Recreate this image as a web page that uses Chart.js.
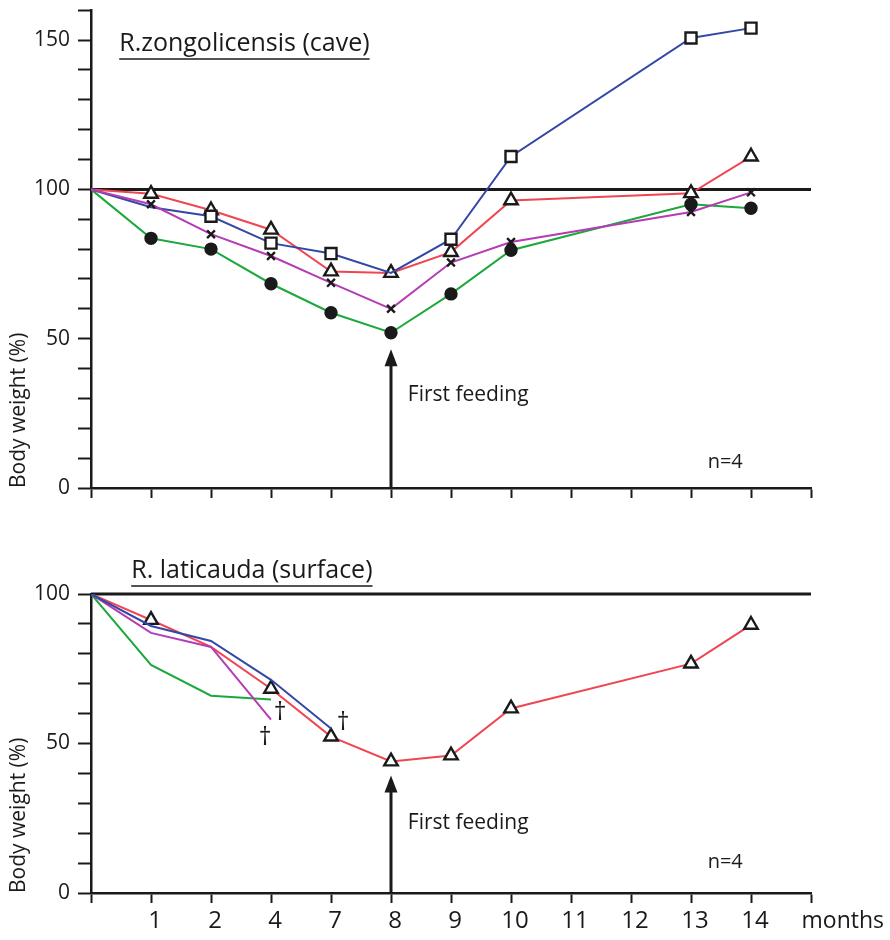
<!DOCTYPE html>
<html><head><meta charset="utf-8">
<script src="https://cdn.jsdelivr.net/npm/chart.js@4/dist/chart.umd.min.js"></script>
<style>
html,body{margin:0;padding:0;background:#fff;}
#top{position:absolute;left:0;top:0;width:890px;height:530px;}
#bot{position:absolute;left:0;top:540px;width:890px;height:400px;}
</style></head><body>
<div id="top"><canvas id="c1"></canvas></div>
<div id="bot"><canvas id="c2"></canvas></div>
<script>
// x-axis categories (months), one per evenly spaced tick position
const monthLabels = ['', '1', '2', '4', '7', '8', '9', '10', '11', '12', '13', '14', ''];

// Top panel: R.zongolicensis (cave), body weight % per month position (null = no value)
const caveBlue    = [100, 94, 91, 82, 78.5, 72, 83.3, 111, null, null, 150.7, 154];
const caveRed     = [100, 98.5, 93, 86.5, 72.5, 72, 79, 96.3, null, null, 98.7, 111];
const caveMagenta = [100, 95, 85, 77.7, 68.7, 60, 75.5, 82.4, null, null, 92.4, 99];
const caveGreen   = [100, 83.6, 80, 68.4, 58.7, 52, 65, 79.6, null, null, 95, 93.7];
// which points carry a visible marker
const caveBlueMarks    = [0, 0, 1, 1, 1, 0, 1, 1, 0, 0, 1, 1];
const caveRedMarks     = [0, 1, 1, 1, 1, 1, 1, 1, 0, 0, 1, 1];
const caveMagentaMarks = [0, 1, 1, 1, 1, 1, 1, 1, 0, 0, 1, 1];
const caveGreenMarks   = [0, 1, 1, 1, 1, 1, 1, 1, 0, 0, 1, 1];

// Bottom panel: R. laticauda (surface)
const surfRed     = [100, 91.3, 82.3, 68.3, 52.3, 44, 46, 61.7, null, null, 76.7, 89.7];
const surfBlue    = [100, 89.3, 84.3, 71.3, 55];
const surfMagenta = [100, 87, 82.3, 58];
const surfGreen   = [100, 76.3, 66, 64.7];
const surfRedMarks = [0, 1, 0, 1, 1, 1, 1, 1, 0, 0, 1, 1];

const refValue = 100;       // horizontal reference line
const firstFeeding = 5;     // position of month 8

const FONT = "'Open Sans', 'Noto Sans', 'DejaVu Sans', sans-serif";
const INK = '#1a1a1a';
const COL = {blue:'#3347a6', red:'#ef4652', magenta:'#b43cb4', green:'#1ba83c'};

function pts(arr){ const out=[]; arr.forEach((v,i)=>{ if(v!==null) out.push({x:i,y:v}); }); return out; }
function radii(arr, marks, r){ const out=[]; arr.forEach((v,i)=>{ if(v!==null) out.push(marks && marks[i] ? r : 0); }); return out; }

function series(arr, color, marks, style, r, fill){
  return {
    data: pts(arr), borderColor: color, borderWidth: 2, tension: 0,
    pointStyle: style || 'circle',
    pointRadius: radii(arr, marks, r || 0),
    pointHoverRadius: 0,
    pointBorderColor: INK, pointBorderWidth: 2.4,
    pointBackgroundColor: fill || '#fff',
  };
}
function refLine(){
  return { data:[{x:0,y:refValue},{x:12,y:refValue}], borderColor:INK, borderWidth:3, pointRadius:0, clip:false, order:10 };
}

const annot = {
  id:'annot',
  afterDatasetsDraw(chart, args, o){
    const {ctx, scales:{x,y}} = chart;
    ctx.save();
    ctx.fillStyle = INK; ctx.strokeStyle = INK;
    // arrow
    const ax = x.getPixelForValue(firstFeeding);
    const yb = y.getPixelForValue(0), yt = y.getPixelForValue(o.arrowTip);
    ctx.lineWidth = 3;
    ctx.beginPath(); ctx.moveTo(ax, yb); ctx.lineTo(ax, yt+14); ctx.stroke();
    ctx.beginPath(); ctx.moveTo(ax, yt); ctx.lineTo(ax-6.5, yt+17); ctx.lineTo(ax+6.5, yt+17); ctx.closePath(); ctx.fill();
    // texts
    ctx.textBaseline = 'middle';
    ctx.font = '21px ' + FONT; ctx.textAlign = 'left';
    ctx.fillText('First feeding', x.getPixelForValue(o.ffX), y.getPixelForValue(o.ffY));
    ctx.font = '20px ' + FONT; ctx.textAlign = 'center';
    ctx.fillText('n=4', x.getPixelForValue(o.nX), y.getPixelForValue(o.nY));
    // title
    ctx.font = '25px ' + FONT; ctx.textAlign = 'left';
    const tx = x.getPixelForValue(o.tX), ty = y.getPixelForValue(o.tY);
    ctx.fillText(o.title, tx, ty);
    const w = ctx.measureText(o.title).width;
    ctx.lineWidth = 1.6;
    ctx.beginPath(); ctx.moveTo(tx, ty+15); ctx.lineTo(tx+w, ty+15); ctx.stroke();
    // daggers
    if (o.daggers){
      ctx.font = '25px ' + FONT; ctx.textAlign = 'center';
      o.daggers.forEach(d => ctx.fillText('\u2020', x.getPixelForValue(d[0]), y.getPixelForValue(d[1])));
    }
    if (o.months){
      ctx.font = '23px ' + FONT; ctx.textAlign = 'center';
      ctx.fillText('months', x.getPixelForValue(12.53), yb + 28);
    }
    ctx.restore();
  }
};

function options(ymax, showX, axisH, padTop, ann){
  return {
    responsive:true, maintainAspectRatio:false, animation:false,
    layout:{padding:{left:0, right:79, top:padTop, bottom:0}},
    plugins:{legend:{display:false}, tooltip:{enabled:false}, annot: ann},
    scales:{
      x:{type:'linear', min:0, max:12,
        afterFit(s){ s.height = axisH; s.paddingLeft = 0; s.paddingRight = 0; },
        border:{display:true, color:INK, width:2.5},
        grid:{drawOnChartArea:false, drawTicks:true, tickLength:10, tickColor:INK, tickWidth:2},
        ticks:{stepSize:1, autoSkip:false, maxRotation:0, padding:4, labelOffset:4,
          color: showX ? INK : 'rgba(0,0,0,0)', font:{family:FONT, size:24},
          callback:(v)=>monthLabels[v]}
      },
      y:{min:0, max:ymax,
        afterFit(s){ s.width = 91; s.paddingTop = 0; s.paddingBottom = 0; },
        border:{display:true, color:INK, width:2.5},
        grid:{drawOnChartArea:false, drawTicks:true, tickLength:13, tickColor:INK, tickWidth:2},
        title:{display:true, text:'Body weight (%)', align:'start', color:INK, font:{family:FONT, size:21}, padding:{top:6, bottom:0}},
        ticks:{stepSize:10, autoSkip:false, padding:8, color:INK, font:{family:FONT, size:21},
          callback:(v)=> (v % 50 === 0 ? String(v) : '')}
      }
    }
  };
}

new Chart(document.getElementById('c1'), {
  type:'line',
  data:{datasets:[
    series(caveMagenta, COL.magenta, caveMagentaMarks, 'crossRot', 5.5),
    series(caveBlue, COL.blue, caveBlueMarks, 'rect', 7.8),
    series(caveRed, COL.red, caveRedMarks, 'triangle', 7.8),
    series(caveGreen, COL.green, caveGreenMarks, 'circle', 5.5, INK),
    refLine()
  ]},
  options: options(160, false, 42, 8, {arrowTip:46.5, ffX:5.28, ffY:31.3, nX:10.57, nY:8.7, tX:0.47, tY:148.7, title:'R.zongolicensis (cave)'}),
  plugins:[annot]
});

new Chart(document.getElementById('c2'), {
  type:'line',
  data:{datasets:[
    series(surfBlue, COL.blue),
    series(surfMagenta, COL.magenta),
    series(surfGreen, COL.green),
    series(surfRed, COL.red, surfRedMarks, 'triangle', 7.8),
    refLine()
  ]},
  options: options(100, true, 47, 54, {arrowTip:39.3, ffX:5.28, ffY:23.3, nX:10.57, nY:10.3, tX:0.67, tY:107.7, title:'R. laticauda (surface)',
    daggers:[[3.15, 60.3],[2.9, 52],[4.2, 57]], months:true}),
  plugins:[annot]
});
</script>
</body></html>
